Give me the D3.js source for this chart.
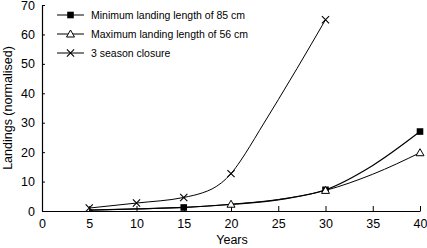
<!DOCTYPE html>
<html>
<head>
<meta charset="utf-8">
<style>
    body { margin: 0; background: #fff; }
    svg { font-family: "Liberation Sans", Arial, sans-serif; }
    .axis .domain { stroke: #000; stroke-width: 1.2; }
    .axis .tick line { stroke: #000; }
    .axis .tick text { font-size: 12.5px; fill: #000; }
    .legend text { font-size: 10.5px; }
    .axis-label { font-size: 12.5px; }
</style>
</head>
<body>
<svg width="427" height="248"></svg>

<script src="https://d3js.org/d3.v7.min.js"></script>
<script>
    // values
    let years = [5, 10, 15, 20, 25, 30, 35, 40]
    let minLanding = [0.3, 0.7, 1.2, 2.2, 3.8, 7.2, 15.5, 27]
    let maxLanding = [0.3, 0.7, 1.2, 2.3, 3.9, 7.0, 12.5, 19.8]

    let closureYears = [5, 10, 15, 17, 18, 19, 20, 21, 22, 23, 25, 27, 30]
    let closure = [1, 2.7, 4.6, 6.2, 7.5, 9.6, 12.7, 17, 22, 27.3, 37.8, 48.5, 65]

    let minMarkYears = [15, 30, 40]
    let maxMarkYears = [20, 30, 40]
    let closureMarkYears = [5, 10, 15, 20, 30]

    let xTicks = [0, 5, 10, 15, 20, 25, 30, 35, 40]
    let yTicks = [0, 10, 20, 30, 40, 50, 60, 70]

    let legendNames = ["Minimum landing length of 85 cm", "Maximum landing length of 56 cm", "3 season closure"]

    let svg = d3.select("svg")

    let x = d3.scaleLinear().domain([0, 40]).range([42, 420])
    let y = d3.scaleLinear().domain([0, 70]).range([211, 5])

    svg.append("g")
        .attr("class", "x axis")
        .attr("transform", "translate(0,211)")
        .call(d3.axisBottom(x).tickValues(xTicks).tickSize(-5).tickSizeOuter(0).tickPadding(6))
        .call(g => g.selectAll(".tick text").attr("dy", "0.9em"))

    svg.append("g")
        .attr("class", "y axis")
        .attr("transform", "translate(42,0)")
        .call(d3.axisLeft(y).tickValues(yTicks).tickSize(-3).tickSizeOuter(0).tickPadding(7))

    let line = d3.line()
        .x(d => x(d[0]))
        .y(d => y(d[1]))
        .curve(d3.curveMonotoneX)

    let minData = years.map((t, i) => [t, minLanding[i]])
    let maxData = years.map((t, i) => [t, maxLanding[i]])
    let closureData = closureYears.map((t, i) => [t, closure[i]])

    svg.append("path").datum(closureData).attr("d", line)
        .attr("fill", "none").attr("stroke", "#000").attr("stroke-width", 1)
    svg.append("path").datum(minData).attr("d", line)
        .attr("fill", "none").attr("stroke", "#000").attr("stroke-width", 1.2)
    svg.append("path").datum(maxData).attr("d", line)
        .attr("fill", "none").attr("stroke", "#000").attr("stroke-width", 1)

    function valueAt(ts, vs, t) {
        return vs[ts.indexOf(t)]
    }

    // markers
    function square(g, cx, cy) {
        g.append("rect").attr("x", cx - 3.3).attr("y", cy - 3.3)
            .attr("width", 6.6).attr("height", 6.6).attr("fill", "#000")
    }
    function triangle(g, cx, cy) {
        g.append("path")
            .attr("d", `M${cx},${cy - 4}L${cx + 4},${cy + 3}L${cx - 4},${cy + 3}Z`)
            .attr("fill", "#fff").attr("stroke", "#000").attr("stroke-width", 1)
    }
    function cross(g, cx, cy) {
        g.append("path")
            .attr("d", `M${cx - 3.6},${cy - 3.6}L${cx + 3.6},${cy + 3.6}M${cx - 3.6},${cy + 3.6}L${cx + 3.6},${cy - 3.6}`)
            .attr("stroke", "#000").attr("stroke-width", 1.1)
    }

    let marks = svg.append("g")
    minMarkYears.forEach(t => square(marks, x(t), y(valueAt(years, minLanding, t))))
    maxMarkYears.forEach(t => triangle(marks, x(t), y(valueAt(years, maxLanding, t))))
    closureMarkYears.forEach(t => cross(marks, x(t), y(valueAt(closureYears, closure, t))))

    // legend
    let legend = svg.append("g").attr("class", "legend")
    let drawers = [square, triangle, cross]
    legendNames.forEach((name, i) => {
        let ly = 15 + i * 19
        legend.append("line").attr("x1", 57).attr("x2", 84).attr("y1", ly).attr("y2", ly)
            .attr("stroke", "#000").attr("stroke-width", 1)
        drawers[i](legend, 70.5, ly)
        legend.append("text").attr("x", 91).attr("y", ly).attr("dy", "0.35em").text(name)
    })

    svg.append("text")
        .attr("class", "axis-label")
        .attr("x", 232)
        .attr("y", 244)
        .attr("text-anchor", "middle")
        .text("Years")

    svg.append("text")
        .attr("class", "axis-label")
        .attr("transform", "translate(12,108) rotate(-90)")
        .attr("text-anchor", "middle")
        .text("Landings (normalised)")
</script>
</body>
</html>
